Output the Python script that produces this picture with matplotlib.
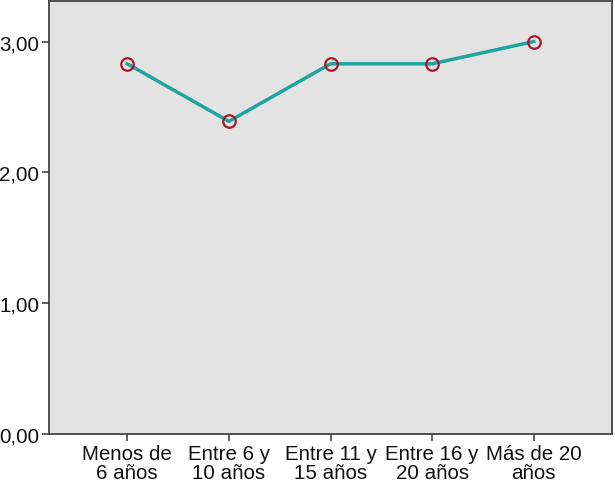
import numpy as np
import matplotlib.pyplot as plt
import matplotlib as mpl

mpl.rcParams['font.family'] = ['Liberation Sans', 'DejaVu Sans']
mpl.rcParams['font.size'] = 14.8

categories = ["Menos de\n6 años", "Entre 6 y\n10 años", "Entre 11 y\n15 años",
              "Entre 16 y\n20 años", "Más de 20\naños"]
values = [2.83, 2.39, 2.83, 2.83, 3.00]
yticks = [0, 1, 2, 3]
ytick_labels = ["0,00", "1,00", "2,00", "3,00"]

fig = plt.figure(figsize=(6.15, 4.85), dpi=100)
ax = fig.add_axes([49/615, 50/485, 563/615, 433/485])
ax.set_facecolor('#e3e3e3')

x = np.arange(len(categories))
ax.plot(x, values, color='#1fa5a0', lw=2.5, zorder=2)
ax.plot(x, values, ls='none', marker='o', ms=9, mfc='none', mec='#a8182c', mew=1.6, zorder=3)

ax.set_xlim(-0.77, 4.77)
ax.set_ylim(0, 3.31)
ax.set_xticks(x)
ax.set_xticklabels(categories, linespacing=1.0)
ax.set_yticks(yticks)
ax.set_yticklabels(ytick_labels)
ax.tick_params(direction='out', length=5, width=1.2, color='#444444', pad=2, labelcolor='#111111')
for s in ax.spines.values():
    s.set_color('#444444')
    s.set_linewidth(1.3)

fig.savefig('out.png', dpi=100)
